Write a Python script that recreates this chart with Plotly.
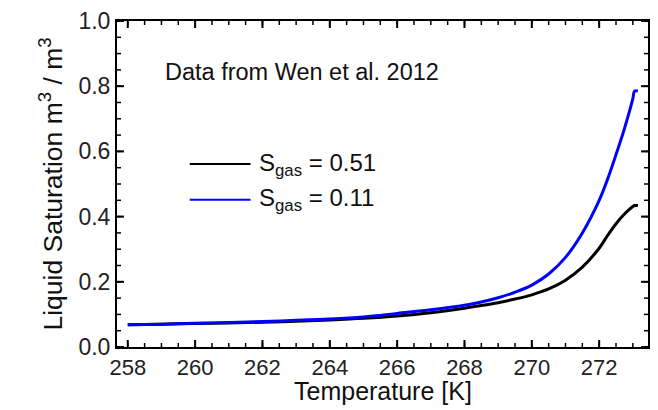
import numpy as np
import plotly.graph_objects as go

# Temperature [K]
temp_black = [258, 259, 260, 261, 262, 263, 264, 265, 266, 267, 268, 268.5, 269,
              269.5, 270, 270.5, 271, 271.5, 272, 272.25, 272.5, 272.75, 273.0, 273.05, 273.15]
sat_black = [0.068, 0.070, 0.072, 0.074, 0.076, 0.079, 0.083, 0.088, 0.095, 0.105,
             0.119, 0.127, 0.136, 0.147, 0.160, 0.178, 0.205, 0.245, 0.303, 0.342,
             0.378, 0.408, 0.431, 0.434, 0.434]

temp_blue = [258, 259, 260, 261, 262, 263, 264, 265, 265.5, 266, 267, 268, 268.5, 269,
             269.5, 270, 270.5, 271, 271.5, 272, 272.25, 272.5, 272.75, 273.0, 273.05, 273.15]
sat_blue = [0.068, 0.070, 0.073, 0.075, 0.078, 0.082, 0.086, 0.092, 0.097, 0.103, 0.114,
            0.128, 0.138, 0.151, 0.168, 0.190, 0.224, 0.275, 0.350, 0.450, 0.515,
            0.590, 0.670, 0.762, 0.785, 0.785]

label_black = "S<sub>gas</sub> = 0.51"
label_blue = "S<sub>gas</sub> = 0.11"
note_text = "Data from Wen et al. 2012"
x_title = "Temperature [K]"
y_title = "Liquid Saturation m<sup>3</sup> / m<sup>3</sup>"

FONT = "Liberation Sans, Arial, sans-serif"
X_RANGE = [257.68, 273.45]
Y_RANGE = [0, 1]

fig = go.Figure()
fig.add_trace(go.Scatter(x=temp_black, y=sat_black, mode="lines",
                         line=dict(color="black", width=3, shape="spline", smoothing=1),
                         showlegend=False))
fig.add_trace(go.Scatter(x=temp_blue, y=sat_blue, mode="lines",
                         line=dict(color="#0000ff", width=3, shape="spline", smoothing=1),
                         showlegend=False))

# legend drawn manually
legend_items = [(label_black, "black", 0.561), (label_blue, "#0000ff", 0.452)]
for text, col, yy in legend_items:
    fig.add_shape(type="line", xref="paper", yref="paper",
                  x0=(190 - 117) / 533, x1=(251 - 117) / 533, y0=yy, y1=yy,
                  line=dict(color=col, width=2))
    fig.add_annotation(text=text, xref="paper", yref="paper",
                       x=(258 - 117) / 533, y=yy, xanchor="left", yanchor="middle",
                       showarrow=False, font=dict(family=FONT, size=24, color="#111"))

fig.add_annotation(text=note_text, xref="paper", yref="paper",
                   x=(163 - 117) / 533, y=0.843, xanchor="left", yanchor="middle",
                   showarrow=False, font=dict(family=FONT, size=23.5, color="#111"))

# x-axis title as annotation
fig.add_annotation(text=x_title, xref="paper", yref="paper", x=0.5, y=-0.135,
                   xanchor="center", yanchor="middle", showarrow=False,
                   font=dict(family=FONT, size=25, color="#111"))

# inward ticks on all four sides (major + minor)
def tick_shapes_x(step, length, width):
    vals = np.arange(258, X_RANGE[1] + 1e-9, step)
    for v in vals:
        for anchor, y0, y1 in ((0, 0, length), (1, 0, -length)):
            fig.add_shape(type="line", xref="x", yref="paper", x0=v, x1=v,
                          ysizemode="pixel", yanchor=anchor, y0=y0, y1=y1,
                          line=dict(color="black", width=width))

def tick_shapes_y(step, length, width):
    vals = np.arange(Y_RANGE[0], Y_RANGE[1] + 1e-9, step)
    for v in vals:
        for anchor, x0, x1 in ((0, 0, length), (1, 0, -length)):
            fig.add_shape(type="line", xref="paper", yref="y", y0=v, y1=v,
                          xsizemode="pixel", xanchor=anchor, x0=x0, x1=x1,
                          line=dict(color="black", width=width))

tick_shapes_x(0.5, 4, 1.5)
tick_shapes_x(2, 7, 2)
tick_shapes_y(0.05, 4, 1.5)
tick_shapes_y(0.2, 7, 2)

fig.update_layout(
    width=658, height=410,
    margin=dict(l=117, r=8, t=17, b=63),
    paper_bgcolor="white", plot_bgcolor="white",
)
fig.update_xaxes(
    range=X_RANGE, tick0=258, dtick=2,
    showline=True, linecolor="black", linewidth=2, mirror=True,
    ticks="",
    showgrid=False, zeroline=False,
    tickfont=dict(family=FONT, size=22, color="#222"),
)
fig.update_yaxes(
    range=Y_RANGE, tick0=0, dtick=0.2, tickformat=".1f",
    showline=True, linecolor="black", linewidth=2, mirror=True,
    ticks="",
    showgrid=False, zeroline=False,
    tickfont=dict(family=FONT, size=23, color="#222"),
    title=dict(text=y_title, font=dict(family=FONT, size=26.5, color="#111"), standoff=8),
)

fig.write_html("out.html")
